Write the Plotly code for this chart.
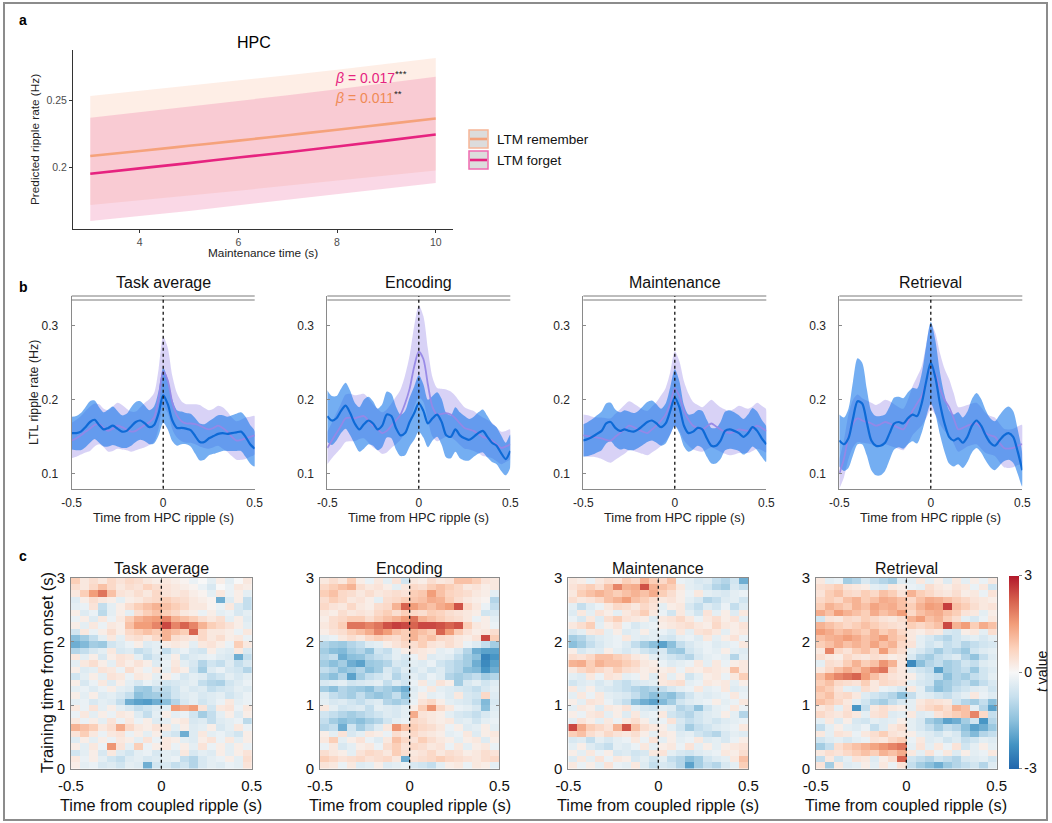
import numpy as np
import plotly.graph_objects as go

W, H = 1052, 823
FONT = "Liberation Sans, Arial, sans-serif"

# ---------------- panel a: predicted HPC ripple rate ----------------
maint_time = [3, 4, 5, 6, 7, 8, 9, 10]
remember_fit = [0.2083, 0.2121, 0.2160, 0.2199, 0.2240, 0.2281, 0.2323, 0.2365]
remember_hi = [0.2534, 0.2572, 0.2611, 0.2650, 0.2691, 0.2732, 0.2775, 0.2820]
remember_lo = [0.1715, 0.1750, 0.1786, 0.1822, 0.1860, 0.1897, 0.1936, 0.1975]
forget_fit = [0.1950, 0.1990, 0.2030, 0.2072, 0.2112, 0.2155, 0.2199, 0.2245]
forget_hi = [0.2372, 0.2413, 0.2455, 0.2497, 0.2540, 0.2585, 0.2632, 0.2680]
forget_lo = [0.1595, 0.1632, 0.1670, 0.1710, 0.1752, 0.1795, 0.1838, 0.1880]
beta_forget = "0.017"
beta_remember = "0.011"

# ---------------- panel b: LTL ripple rate around HPC ripples ----------------
epochs = ["Task average", "Encoding", "Maintenance", "Retrieval"]
lag_s = np.round(np.arange(-0.5, 0.5001, 0.025), 3)

blue_mean_task = [.155,.155,.157,.163,.170,.173,.166,.160,.162,.165,.161,.157,.158,.164,.170,.172,.168,.163,.166,.182,.206,
                  .194,.172,.162,.162,.161,.159,.151,.143,.143,.148,.151,.154,.155,.154,.155,.156,.157,.150,.140,.134]
blue_sem_task = [.022,.023,.025,.027,.028,.026,.024,.023,.025,.026,.024,.022,.023,.026,.027,.026,.024,.023,.025,.030,.037,
                 .034,.028,.024,.022,.021,.022,.024,.025,.024,.023,.024,.025,.024,.023,.024,.025,.026,.027,.026,.024]
purple_mean_task = [.145,.148,.152,.157,.161,.166,.167,.162,.158,.161,.165,.163,.160,.157,.158,.162,.166,.170,.176,.202,.238,
                    .226,.196,.179,.171,.168,.168,.167,.165,.162,.160,.162,.165,.162,.157,.150,.145,.146,.148,.150,.152]
purple_sem_task = [.024,.025,.026,.028,.030,.029,.027,.026,.028,.030,.031,.030,.028,.027,.026,.028,.030,.031,.033,.040,.047,
                   .044,.036,.030,.027,.026,.026,.027,.028,.027,.026,.026,.027,.028,.027,.026,.026,.027,.028,.027,.026]

blue_mean_enc = [.178,.172,.175,.185,.192,.182,.168,.160,.167,.172,.168,.160,.165,.180,.178,.162,.152,.155,.170,.182,.195,
                 .185,.168,.175,.180,.170,.152,.150,.160,.152,.148,.146,.150,.155,.158,.150,.142,.138,.128,.120,.131]
blue_sem_enc = [.035,.033,.030,.030,.031,.030,.028,.030,.033,.032,.030,.028,.029,.031,.030,.029,.028,.030,.033,.036,.038,
                .036,.032,.030,.030,.031,.030,.029,.030,.031,.030,.028,.027,.028,.029,.028,.026,.025,.024,.022,.022]
purple_mean_enc = [.135,.145,.155,.165,.175,.176,.175,.177,.178,.172,.165,.160,.155,.158,.165,.172,.180,.195,.215,.245,.265,
                   .255,.220,.190,.180,.181,.182,.180,.175,.168,.162,.160,.158,.154,.150,.148,.145,.140,.135,.137,.140]
purple_sem_enc = [.022,.024,.027,.030,.032,.032,.031,.030,.030,.030,.029,.028,.028,.029,.030,.032,.034,.038,.045,.055,.062,
                  .058,.048,.040,.036,.034,.032,.031,.030,.029,.028,.027,.027,.026,.026,.025,.024,.023,.022,.021,.020]

blue_mean_maint = [.145,.147,.150,.154,.158,.168,.170,.162,.158,.160,.158,.157,.160,.165,.170,.172,.168,.163,.168,.185,.203,
                   .190,.165,.155,.157,.162,.160,.148,.138,.138,.145,.158,.160,.158,.155,.150,.155,.163,.158,.148,.140]
blue_sem_maint = [.022,.023,.024,.025,.026,.027,.026,.025,.025,.026,.026,.025,.025,.026,.027,.027,.026,.025,.027,.032,.038,
                  .035,.028,.025,.024,.024,.025,.025,.024,.024,.025,.026,.026,.025,.024,.024,.025,.026,.026,.025,.024]
purple_mean_maint = [.152,.151,.150,.149,.148,.146,.145,.150,.155,.160,.165,.163,.160,.157,.155,.160,.165,.172,.180,.195,.215,
                     .205,.185,.173,.165,.162,.160,.164,.168,.164,.160,.157,.155,.157,.160,.159,.158,.161,.165,.162,.158]
purple_sem_maint = [.028,.028,.027,.027,.028,.029,.030,.031,.032,.033,.033,.032,.031,.030,.030,.031,.032,.034,.036,.042,.050,
                    .047,.040,.035,.032,.031,.030,.031,.032,.031,.030,.030,.030,.031,.032,.031,.030,.030,.031,.030,.029]

blue_mean_retr = [.145,.140,.148,.175,.198,.195,.170,.145,.138,.138,.142,.155,.168,.170,.168,.175,.180,.178,.195,.225,.250,
                  .230,.195,.168,.150,.145,.148,.142,.150,.165,.172,.165,.152,.142,.138,.145,.152,.155,.150,.130,.105]
blue_sem_retr = [.035,.036,.040,.050,.058,.055,.045,.040,.040,.040,.038,.036,.035,.034,.034,.035,.036,.037,.040,.048,.055,
                 .050,.042,.038,.036,.035,.035,.034,.034,.036,.037,.036,.034,.033,.033,.034,.035,.036,.035,.030,.022]
purple_mean_retr = [.100,.120,.150,.168,.175,.172,.170,.168,.165,.167,.170,.168,.165,.162,.160,.170,.185,.195,.205,.225,.245,
                    .235,.215,.200,.190,.175,.160,.162,.165,.167,.168,.162,.155,.152,.150,.142,.135,.134,.135,.138,.140]
purple_sem_retr = [.020,.025,.030,.032,.032,.030,.029,.028,.028,.029,.030,.030,.029,.028,.028,.030,.033,.036,.040,.050,.058,
                   .055,.048,.042,.038,.034,.030,.029,.028,.028,.028,.028,.027,.026,.026,.026,.026,.026,.026,.026,.026]

blue_means = [blue_mean_task, blue_mean_enc, blue_mean_maint, blue_mean_retr]
blue_sems = [blue_sem_task, blue_sem_enc, blue_sem_maint, blue_sem_retr]
purple_means = [purple_mean_task, purple_mean_enc, purple_mean_maint, purple_mean_retr]
purple_sems = [purple_sem_task, purple_sem_enc, purple_sem_maint, purple_sem_retr]

# ---------------- panel c: decoding t-values (rows listed from 3 s down to 0 s) ----------------
coupled_lag_s = np.round(np.arange(-0.475, 0.5, 0.05), 3)
train_time_s = np.round(np.arange(0.05, 3.0, 0.1), 2)

tval_task = [
    [0.8,0.3,0.5,0.3,0.6,0.4,0.6,0.5,0.3,0.2,0.3,0.2,0.1,-0.2,0.0,-0.3,0.2,-0.3,0.0,0.3],
    [0.5,0.3,0.6,1.0,0.6,0.3,0.5,0.4,0.7,0.5,0.4,0.3,0.2,0.1,-0.2,-0.5,0.0,-0.2,0.3,0.2],
    [0.3,0.8,1.5,2.0,1.0,0.4,0.3,0.5,0.3,0.6,0.4,0.3,0.4,0.2,0.1,-0.3,0.3,-0.2,0.2,-0.3],
    [-0.4,0.2,0.5,0.3,0.2,-0.3,0.2,0.3,0.5,0.6,0.8,0.6,0.5,0.3,0.2,0.1,-1.8,-0.4,0.2,-0.8],
    [-0.3,-0.2,0.4,-0.8,-0.3,0.2,0.5,0.8,1.0,1.2,1.0,0.8,0.6,0.3,0.3,0.1,-0.2,0.3,-0.5,-0.8],
    [0.2,-0.4,-0.2,-0.9,-0.3,0.2,-0.3,0.5,0.8,1.0,0.8,0.6,0.3,0.2,-0.2,0.2,-0.3,-0.2,-0.5,-0.3],
    [-0.2,0.2,-0.4,0.3,-0.2,0.3,0.8,1.2,1.4,1.5,1.8,1.2,1.0,0.8,0.5,0.3,0.5,-0.3,0.2,-0.4],
    [0.2,-0.3,0.3,-0.2,0.3,0.2,1.0,1.5,1.5,1.8,2.5,1.8,2.2,1.8,1.2,0.8,0.6,0.4,0.2,-0.3],
    [-0.6,0.3,-0.2,0.2,0.5,0.2,0.6,0.8,1.0,0.8,1.2,1.0,0.8,2.2,0.6,0.3,0.3,0.2,-0.2,0.3],
    [-1.5,-1.2,-0.8,-0.3,0.3,-0.3,0.4,0.5,0.3,0.6,1.2,0.5,0.4,0.3,0.6,0.3,0.5,0.2,0.3,-0.2],
    [-1.8,-1.6,-1.2,-1.3,-0.6,-0.4,-0.2,0.2,-0.4,-0.3,0.2,0.3,0.2,-0.3,0.3,0.4,0.2,-0.2,0.8,0.3],
    [-1.0,-0.8,-0.5,-0.3,0.3,-0.5,-0.4,-0.8,-0.6,-0.3,-0.8,-0.4,-0.2,-0.5,-0.6,0.2,-0.3,-0.4,0.3,-0.5],
    [0.3,-0.3,0.2,-0.5,0.2,0.4,0.3,-0.3,-0.8,-0.5,-0.3,0.2,-0.6,-0.4,-0.3,-0.2,-0.4,-0.5,-1.8,-0.8],
    [-0.3,0.3,0.5,0.2,-0.3,0.4,0.2,0.4,0.2,-0.4,-0.2,0.3,-0.3,-0.5,-1.0,-0.6,-0.8,-0.4,-0.8,-0.5],
    [0.2,-0.4,-0.3,0.4,0.3,-0.2,0.5,0.2,-0.2,0.3,-0.3,0.4,0.2,-0.6,-1.2,-0.4,-0.2,-0.5,-0.6,-1.0],
    [-0.6,-0.3,0.2,-0.3,0.4,0.3,-0.2,0.3,0.2,-0.3,0.2,-0.2,-0.5,-0.3,-0.4,-0.8,-0.6,-0.3,-0.5,-0.3],
    [0.2,-0.5,-0.2,0.3,-0.4,0.2,-0.3,-0.5,-0.2,-0.4,-0.6,-0.5,-0.4,-0.3,-0.8,-1.0,-1.1,-0.6,-0.4,-0.2],
    [-0.3,-0.2,-0.4,-0.2,0.2,-0.3,-0.4,-1.2,-1.3,-0.8,-0.9,-0.6,-0.3,-0.5,-0.4,-0.8,-0.6,-0.5,-0.3,-0.4],
    [0.2,-0.3,0.2,-0.4,-0.3,-0.5,-0.8,-1.5,-1.3,-1.2,-1.0,-0.6,-0.4,-0.3,-0.5,-0.4,-0.3,-0.6,-0.4,-0.2],
    [-0.3,-0.2,-0.5,-0.3,-0.4,-0.8,-1.8,-2.0,-2.1,-1.8,-1.5,-1.0,-0.5,-0.3,-0.6,-0.4,-0.2,0.3,-0.3,-0.2],
    [0.3,-0.2,0.4,-0.3,0.2,-0.3,-0.5,-0.8,-0.6,-0.4,-0.3,1.5,1.3,1.5,0.4,-0.6,0.3,0.4,-0.2,0.3],
    [-0.2,0.3,-0.3,0.2,-0.2,0.3,0.2,-0.4,-0.8,-0.3,0.2,-0.3,-0.2,-0.6,-1.2,-0.8,-0.3,0.2,-0.4,0.2],
    [0.3,-0.2,0.2,-0.3,0.4,-0.2,0.3,-0.2,0.2,-0.4,-0.3,0.2,0.3,-0.5,-0.4,-0.8,-0.4,-0.3,-0.2,-0.9],
    [1.2,1.0,0.8,0.3,0.5,1.3,0.6,0.3,0.2,0.4,0.3,-0.3,0.2,-0.4,-0.3,0.2,-0.5,-0.3,0.3,-0.2],
    [0.4,0.8,0.3,-0.2,0.3,0.4,-0.2,0.2,-0.3,0.2,-0.4,-0.6,-1.8,-0.4,0.3,-0.3,-0.2,-0.4,-0.6,0.2],
    [-0.4,0.2,-0.3,0.2,-0.2,0.3,0.2,-0.3,0.4,-0.2,0.3,0.2,-0.3,-0.4,0.2,0.4,-0.2,0.3,-0.3,0.2],
    [0.2,-0.3,0.3,-0.2,1.6,0.4,-0.3,0.8,-0.2,0.2,0.3,-0.2,0.2,-0.3,0.4,-0.2,0.2,-0.3,0.2,-0.2],
    [-0.6,-0.3,0.2,-0.5,0.3,-0.4,-0.6,-0.3,-0.2,-0.5,-0.3,-0.4,0.3,-0.5,-0.3,-0.4,0.2,-0.3,0.2,0.4],
    [0.3,-0.2,0.2,-0.3,-0.6,-0.8,-0.4,-0.3,-0.5,-0.4,-0.3,-0.2,-0.8,-1.0,-0.5,-0.3,-0.2,0.2,-0.3,0.5],
    [0.2,-0.3,-0.2,-0.5,-0.4,-0.6,-0.3,-0.4,-1.8,-0.6,-0.5,-0.8,-0.6,-1.0,-0.5,-0.3,-0.4,-0.2,-0.3,0.4],
]

tval_enc = [
    [0.3,0.5,0.3,0.8,0.2,-0.2,0.3,-0.3,0.4,-0.6,0.3,0.2,0.5,0.3,0.4,1.0,1.0,0.8,0.4,0.3],
    [0.6,0.8,1.0,1.2,0.5,0.3,0.4,0.2,-0.3,0.3,0.6,0.5,0.8,1.0,0.8,0.6,0.3,0.4,0.2,0.3],
    [0.8,1.0,0.6,0.5,0.3,0.5,0.3,0.4,0.5,0.4,0.8,0.9,1.5,1.0,0.7,0.6,0.5,0.3,0.2,-0.3],
    [0.5,0.8,0.6,0.3,0.4,0.2,-0.3,0.5,0.6,0.8,0.9,1.0,1.3,1.2,0.8,0.5,0.3,0.2,0.1,-1.0],
    [0.6,0.4,0.3,0.6,0.3,0.2,0.5,0.6,1.2,2.2,1.5,1.2,1.0,1.3,1.5,2.4,0.6,0.3,-0.2,-0.8],
    [0.3,0.2,0.5,0.3,0.4,0.3,0.6,0.8,0.5,0.8,0.6,0.5,0.8,0.7,0.5,0.4,0.3,0.2,-0.6,-0.5],
    [0.2,0.5,0.6,0.8,0.8,0.5,0.8,1.0,1.2,1.5,2.0,1.2,1.0,0.8,0.6,0.5,0.3,-0.2,0.2,-0.3],
    [0.3,0.5,0.8,2.0,2.0,1.8,2.0,2.4,2.6,2.5,2.2,2.5,2.5,2.4,2.2,2.4,0.8,0.3,0.2,-0.2],
    [0.2,0.4,0.5,0.8,1.0,1.3,1.8,1.5,1.0,0.8,1.2,1.0,0.8,2.2,1.5,0.8,0.4,0.2,0.3,0.5],
    [-0.3,-0.2,0.3,0.5,0.3,0.6,0.8,0.6,0.5,0.8,1.2,0.8,1.0,0.6,0.5,0.3,0.2,0.4,2.5,0.8],
    [-1.0,-1.2,-1.3,-1.0,-0.8,-0.4,-0.3,0.2,0.4,0.6,0.5,0.8,0.4,0.3,0.5,0.3,-0.2,-0.4,-0.8,-1.2],
    [-1.2,-1.5,-1.6,-1.2,-1.0,-1.4,-0.6,-0.8,-0.3,0.2,0.4,0.3,0.2,-0.3,-0.2,-0.5,-1.0,-1.8,-2.0,-2.0],
    [-1.0,-0.8,-1.8,-1.5,-1.4,-1.0,-0.8,-0.6,-0.3,-0.5,-0.2,0.3,-0.4,-0.3,-0.4,-0.8,-1.2,-1.5,-2.5,-2.2],
    [-1.2,-1.5,-1.2,-1.8,-2.0,-1.3,-1.2,-1.0,-0.5,-0.6,-0.3,-0.4,-0.2,-0.6,-0.8,-1.0,-1.2,-1.8,-2.4,-2.0],
    [-0.8,-1.0,-1.5,-1.3,-1.0,-1.5,-1.2,-0.5,-0.8,-0.4,-0.5,-0.3,-0.6,-0.4,-0.8,-1.0,-1.5,-1.6,-2.2,-1.8],
    [-1.2,-1.5,-1.0,-2.0,-1.2,-0.8,-0.6,-0.4,-1.0,-0.6,-0.3,-0.5,-0.2,-0.4,-1.0,-1.2,-1.0,-0.8,-1.2,-1.0],
    [-0.5,-0.4,-0.3,-0.6,-0.5,-0.4,-0.3,-0.8,-0.4,-0.6,-0.2,0.3,-0.3,0.4,0.2,-1.2,-0.5,-0.3,-0.6,-0.4],
    [-1.2,-1.5,-1.0,-1.2,-1.3,-1.5,-1.0,-1.2,-1.5,-1.8,-0.4,-0.2,0.3,-0.3,-0.4,-0.5,-0.6,-0.8,-0.5,-0.3],
    [-0.4,-0.8,-1.0,-1.2,-0.8,-1.2,-1.4,-1.2,-0.8,-1.5,-0.3,0.2,-0.3,-0.2,-0.4,0.3,-0.5,-0.6,0.6,-0.4],
    [-0.3,-0.5,-0.4,-0.6,-0.8,-0.5,-0.4,-1.0,-1.2,-1.0,-0.2,0.4,0.6,0.2,-0.3,-0.4,-0.5,-0.8,-1.6,-0.5],
    [0.3,-0.3,-0.6,-0.5,-0.4,-0.8,-0.3,-0.4,-0.5,-0.3,0.2,0.8,1.6,0.6,0.3,-0.2,-0.3,-0.5,-1.5,-0.4],
    [-0.6,-0.8,-1.0,-1.2,-1.0,-0.8,-0.6,-0.4,-0.5,-0.3,1.3,0.4,0.3,0.2,-0.3,-0.5,-0.6,-0.8,-0.5,-0.3],
    [-0.8,-1.2,-1.5,-1.3,-1.5,-1.2,-1.0,-0.6,-0.3,-0.2,0.6,0.5,0.3,0.2,0.3,-0.4,-0.3,-0.6,-0.3,-0.2],
    [-1.0,-0.8,-1.8,-0.6,-1.2,-0.8,-0.4,0.3,1.6,1.0,0.8,0.6,0.5,0.3,-0.2,0.2,-0.4,-0.3,0.2,-0.3],
    [0.2,-0.3,0.4,-0.5,-0.3,0.3,0.2,-0.2,0.5,0.3,0.6,0.4,0.3,0.2,-0.3,-0.2,0.3,-0.4,0.2,0.3],
    [0.3,0.8,-0.3,0.2,0.4,-0.2,-0.4,0.3,1.0,0.6,0.4,0.8,0.5,0.3,0.2,-0.3,0.2,0.3,-0.4,0.2],
    [-0.2,0.3,-0.5,-0.3,0.2,0.3,-0.2,0.5,0.8,0.4,0.6,0.5,0.3,0.4,-0.2,0.3,-0.3,0.2,0.3,-0.2],
    [0.5,0.3,0.2,-0.3,0.4,0.6,0.5,0.3,0.8,0.5,0.3,0.4,0.6,0.3,0.5,0.4,0.2,0.3,0.5,0.4],
    [0.8,0.6,0.4,0.5,0.6,0.4,0.5,0.6,0.3,-1.8,0.4,0.5,0.6,0.8,0.6,0.5,0.4,0.3,0.5,0.6],
    [0.4,0.3,-0.2,0.3,-0.4,-0.3,0.2,-0.4,-0.3,-0.2,-0.5,-0.6,-0.8,-0.3,0.2,0.3,-0.2,0.3,0.2,-0.3],
]

tval_maint = [
    [0.3,0.2,-0.2,0.3,0.5,0.4,0.8,0.6,1.2,0.8,0.6,1.0,-0.2,-0.3,-0.5,-0.4,-0.8,-1.0,-0.6,-1.8],
    [0.4,0.6,0.8,0.5,1.0,1.8,1.2,1.3,2.4,1.2,1.0,0.8,0.3,-0.3,-0.4,-0.6,-1.0,-1.2,-0.5,-0.8],
    [0.3,0.8,1.0,1.2,1.0,0.8,1.0,1.2,1.0,1.3,0.8,0.5,0.2,-0.2,0.3,-0.3,-0.4,-0.5,-0.3,-0.2],
    [0.5,0.3,0.4,0.6,1.0,1.2,1.5,1.0,0.8,0.5,0.3,0.4,0.2,-0.3,-0.5,-1.0,-0.8,-0.4,-0.3,-0.6],
    [-0.3,-0.8,-0.4,-0.2,0.3,0.6,0.5,0.3,0.6,0.4,-0.3,0.2,0.3,-0.5,-0.8,-0.4,-0.6,-0.2,-0.8,-0.4],
    [-0.4,0.3,-0.3,0.4,0.2,-0.3,0.3,0.5,0.8,0.3,-0.2,-0.6,0.3,-0.3,-0.6,0.4,-0.3,0.2,-0.4,0.3],
    [-0.2,-0.5,0.3,-0.4,0.5,0.8,0.4,0.3,0.2,-0.4,0.3,0.4,0.6,0.3,-0.2,0.3,0.5,0.2,0.4,-0.3],
    [0.3,0.5,0.8,-0.3,0.2,0.4,-0.2,-0.5,-0.3,-0.2,0.2,0.3,0.4,0.5,0.3,0.2,0.6,0.3,0.2,0.4],
    [-0.5,-0.3,0.3,0.4,-0.3,0.2,-0.4,-0.3,0.2,-0.3,-0.2,-0.4,0.3,-0.3,0.4,0.5,0.3,-0.3,0.2,0.3],
    [-1.2,-1.0,-0.6,-0.4,-0.3,-0.2,0.3,-0.3,-0.4,-0.3,-0.5,-0.6,-0.3,-0.2,-0.4,0.3,-0.3,0.2,0.4,-0.2],
    [-1.5,-1.2,-0.8,-0.5,-0.3,-0.2,-0.4,-0.8,-1.2,-1.5,-2.0,-1.5,-0.8,-0.5,-0.3,-0.2,-0.4,-0.3,-0.2,0.3],
    [0.2,-0.5,-0.3,-0.4,0.2,-0.3,-0.5,-0.3,-0.6,-0.8,-0.5,-1.2,-1.3,-0.6,-0.4,-0.2,-0.3,0.2,-0.3,-0.4],
    [0.5,0.4,0.6,1.0,1.0,0.8,0.6,0.3,0.2,-0.3,-0.4,-0.6,-0.8,-1.0,-0.5,-0.3,-0.2,-0.3,-1.0,-0.3],
    [1.2,1.3,0.8,1.2,1.0,1.0,0.8,0.6,0.3,0.2,-0.2,-0.4,-0.3,-0.2,0.3,-0.3,0.3,-0.2,0.2,0.3],
    [0.3,0.6,0.8,0.6,0.4,0.8,0.5,0.4,0.2,0.3,0.2,0.3,-0.2,0.3,0.2,0.4,0.3,0.2,1.0,0.3],
    [-0.3,-0.4,0.3,-0.2,0.4,0.3,-0.3,-0.2,0.2,-0.4,0.3,-0.3,0.2,-0.6,-0.3,0.2,0.3,-0.2,0.3,0.8],
    [-0.6,-0.4,-0.3,-0.5,-0.3,-0.6,-0.8,-0.5,-0.4,-0.3,0.3,0.4,0.5,-0.3,-0.2,0.3,0.2,0.3,-0.3,0.2],
    [0.3,-0.3,0.2,-0.4,-0.5,-0.6,-0.8,-1.0,-1.2,-1.0,-0.8,-0.5,-0.3,-0.2,0.3,-0.3,-0.2,0.3,-0.4,-0.3],
    [-0.3,0.3,-0.2,0.3,-0.3,-0.4,-0.5,-0.8,-1.2,-1.5,-1.3,-1.5,-1.0,-0.6,-0.3,-0.4,-0.3,-0.2,0.3,-0.2],
    [0.2,-0.3,0.4,0.3,-0.2,-0.5,-0.8,-1.5,-1.8,-2.0,-1.6,-1.2,-0.6,-0.4,-0.3,-0.2,0.2,-0.3,-0.2,0.3],
    [-0.3,0.3,0.2,-0.4,0.3,0.2,0.4,-0.3,-0.5,-0.6,-0.3,-0.4,-1.0,-0.8,-1.4,-0.6,-0.3,-0.2,0.3,-0.2],
    [0.2,-0.2,0.3,0.4,-0.3,0.2,-0.4,0.3,-0.3,-0.2,0.3,-0.6,-0.8,-1.0,-0.6,-0.4,-0.3,0.2,-0.3,-1.0],
    [-0.3,0.4,0.2,-0.3,0.3,-0.2,0.3,0.5,0.2,-0.3,-0.2,0.4,-0.5,-0.8,-0.6,-0.4,-0.6,-0.4,-0.3,-0.2],
    [2.5,1.3,0.8,0.6,0.4,1.2,2.4,1.0,0.5,0.3,0.2,-0.3,-0.6,-1.2,-0.8,-0.6,-0.4,-0.3,-0.2,0.3],
    [0.8,1.0,0.5,0.3,0.6,0.4,0.3,0.5,0.2,-0.3,0.3,0.2,-0.4,-0.3,-0.6,-0.8,-1.0,-0.5,-0.3,-0.4],
    [-0.5,-0.4,-0.8,-0.3,-0.5,-0.3,-0.2,0.3,-0.2,0.4,-0.3,0.2,-0.3,-0.2,0.3,-0.4,-0.3,-0.5,-0.2,0.2],
    [-0.3,0.2,-0.4,-0.6,-0.8,-0.3,-0.4,-0.2,0.3,-0.3,0.2,0.3,-0.2,0.4,-0.3,0.2,-0.3,0.2,0.3,0.4],
    [0.2,-0.3,0.3,-0.2,0.2,-0.5,-0.4,-0.6,-0.5,0.3,0.4,-0.3,-0.5,-0.6,-0.4,-0.3,-0.2,0.3,0.2,0.5],
    [-0.4,0.3,-0.3,0.4,-0.2,0.3,0.2,-0.5,-0.3,-0.6,-0.3,-0.8,-1.0,-1.5,-1.2,-0.6,-0.4,-0.3,0.3,1.0],
    [0.3,-0.2,0.2,-0.3,0.4,-0.2,-0.3,0.3,-0.4,-0.8,-0.5,-0.6,-1.0,-2.0,-1.2,-0.8,-1.0,-0.5,-0.3,0.8],
]

tval_retr = [
    [0.3,-0.3,-0.2,-1.2,-1.0,-0.5,-0.8,-1.0,-1.2,-0.4,-0.3,0.3,-0.3,0.2,-0.4,0.3,-0.3,0.2,-0.2,0.3],
    [0.5,0.6,0.8,0.4,0.3,0.2,-0.3,-0.4,0.3,0.2,-0.2,-0.3,0.5,0.3,0.2,0.4,0.3,-0.2,0.3,-0.6],
    [0.4,0.8,1.0,0.6,0.5,0.8,0.6,1.0,0.8,0.4,1.2,0.8,0.6,0.4,0.3,0.5,0.2,0.3,-0.2,0.4],
    [0.6,0.8,0.6,1.0,1.2,0.8,1.0,1.3,1.2,1.0,0.6,1.0,1.3,1.2,1.0,0.8,0.6,0.4,0.3,0.2],
    [0.8,1.2,1.0,0.8,1.2,1.0,1.4,1.2,1.3,1.0,0.8,1.2,1.5,1.4,2.6,1.0,0.8,0.5,0.3,0.4],
    [1.3,1.0,1.5,1.2,1.0,0.8,1.3,1.0,1.2,1.5,0.6,1.0,1.2,1.3,1.0,0.8,0.4,0.3,-0.3,0.2],
    [-0.6,0.4,0.3,0.6,0.5,0.8,0.6,0.4,0.3,0.5,1.2,1.5,1.0,1.2,0.8,0.5,-0.3,-0.5,-0.2,0.3],
    [1.2,1.0,0.8,0.6,0.8,1.0,0.8,0.6,0.5,0.4,0.8,0.6,0.8,1.0,2.5,1.2,1.5,0.8,1.3,1.0],
    [1.5,1.3,1.0,1.2,1.0,0.8,1.2,0.8,1.0,0.6,0.3,0.2,0.4,0.3,-0.5,-0.6,0.2,0.3,-0.3,0.5],
    [1.0,1.2,1.3,1.5,1.3,1.0,1.2,1.5,1.0,0.8,0.3,-0.3,-0.5,-0.8,-1.0,-0.6,-0.4,-0.3,-0.5,-0.3],
    [0.8,1.0,1.3,1.0,1.2,1.0,1.4,1.0,1.2,0.6,0.4,-0.3,-0.6,-0.4,-0.8,-0.6,-1.0,-0.8,-0.6,-0.5],
    [0.3,1.8,0.6,0.4,0.8,1.0,0.6,1.5,0.8,0.5,-0.3,-0.5,-0.8,-1.2,-0.8,-1.0,-1.3,-0.6,-0.4,-0.3],
    [0.5,0.3,0.2,0.6,0.4,0.3,0.5,0.4,0.2,0.3,-0.5,-1.0,-1.2,-0.8,-0.6,-0.4,-1.0,-1.4,-0.8,-0.4],
    [-0.3,0.5,0.4,0.8,1.2,0.8,1.0,1.6,1.2,0.3,-2.4,-1.5,-1.0,-0.8,-1.2,-1.0,-0.6,-0.8,-0.4,-0.3],
    [0.3,0.6,1.0,1.3,1.0,1.4,1.8,2.0,0.6,0.3,-0.4,-0.6,-0.8,-2.0,-1.2,-1.0,-0.8,-1.3,-0.6,-0.4],
    [1.0,1.5,1.8,2.0,2.2,1.5,1.0,0.6,0.4,0.3,0.2,-0.4,-0.6,-0.8,-1.5,-1.0,-1.2,-0.8,-0.6,-0.3],
    [0.8,1.0,0.6,0.5,0.4,0.8,0.3,0.6,0.5,0.4,-0.3,-0.5,-0.6,-1.4,-1.2,-1.0,-0.8,-1.2,-0.8,-0.5],
    [1.0,0.8,0.4,-0.3,-0.4,0.5,0.3,-0.2,-0.3,-0.5,0.3,-0.3,-1.0,-1.5,-1.2,-0.8,-0.6,-0.4,-0.3,-0.6],
    [0.8,1.0,0.5,0.6,0.3,-0.4,-0.6,-0.8,-1.0,-1.5,-0.8,-0.3,-0.4,-0.6,-0.8,-0.5,-0.3,0.3,-0.2,-0.4],
    [1.0,0.8,0.6,0.3,-0.3,-0.6,-1.0,-1.2,-0.8,-0.5,-0.3,0.3,0.5,0.4,0.3,-0.6,-1.0,-1.2,-0.8,-1.5],
    [0.3,0.5,-0.3,0.4,-2.2,-0.8,0.3,0.5,0.3,0.2,-0.3,0.4,0.6,0.8,0.5,1.2,1.0,-0.3,-1.0,-2.0],
    [0.6,0.4,0.3,0.5,0.3,-0.3,0.4,0.5,-0.4,-0.3,0.3,-0.4,-0.3,0.4,0.6,0.8,1.0,1.8,0.6,-0.8],
    [-0.3,0.3,-0.4,0.2,-0.5,-0.6,-0.3,-0.4,-0.3,0.2,-0.3,-0.5,-1.2,-1.5,-2.0,-1.8,-1.2,-0.6,-2.2,-1.0],
    [-0.8,-0.3,0.2,-0.3,-0.4,-0.2,-0.8,-0.4,0.3,0.5,-0.3,-0.5,-0.8,-1.2,-0.8,-1.0,-1.5,-2.0,-1.8,-1.3],
    [0.3,-0.3,0.4,0.3,-0.2,0.3,0.5,0.8,0.4,0.3,0.2,-0.3,-0.4,-0.6,-0.3,-0.5,-1.2,-1.6,-1.0,-0.8],
    [-0.6,-0.4,-0.3,-0.5,-0.3,-0.2,0.4,0.3,0.6,0.8,-0.2,0.3,-0.4,-0.3,-0.6,-0.4,-0.8,-0.6,-0.3,-0.4],
    [-1.2,-0.8,0.5,0.8,1.0,1.2,1.4,1.6,1.8,2.0,-0.3,0.4,-0.3,0.3,-0.2,0.4,-0.6,-0.3,0.2,-0.3],
    [0.3,0.5,0.4,0.6,0.8,1.0,0.8,1.2,1.0,1.3,0.3,-0.3,0.4,-0.2,0.3,-0.4,0.2,-0.3,-0.2,0.3],
    [-0.8,0.3,-0.6,-0.3,0.4,0.3,-0.4,0.2,0.5,2.2,-0.6,-0.8,-1.0,-0.6,-0.8,-1.0,-0.5,-0.4,-0.3,-0.6],
    [0.4,-1.2,0.3,-0.4,-0.3,0.2,-0.3,0.3,-0.2,0.4,-0.8,-1.2,-1.5,-1.8,-1.3,-1.0,-0.8,-0.6,-1.0,-0.4],
]
tval_maps = [tval_task, tval_enc, tval_maint, tval_retr]

# ---------------- helpers ----------------
def fx(p):
    return p / W


def fy(p):
    return 1 - p / H


def band(x, lo, hi):
    x = list(x)
    return x + x[::-1], list(hi) + list(lo)[::-1]


fig = go.Figure()
annotations = []
shapes = []


def text(s, x, y, size, color="#000", xanchor="center", yanchor="middle", angle=0, bold=False):
    if bold:
        s = "<b>" + s + "</b>"
    annotations.append(dict(text=s, x=fx(x), y=fy(y), xref="paper", yref="paper", showarrow=False,
                            xanchor=xanchor, yanchor=yanchor, textangle=angle,
                            font=dict(size=size, color=color, family=FONT)))


# ---------------- panel a ----------------
xs, ys = band(maint_time, remember_lo, remember_hi)
fig.add_trace(go.Scatter(x=xs, y=ys, mode="lines", fill="toself", fillcolor="rgba(248,170,130,0.20)",
                         line=dict(width=0), hoverinfo="skip", xaxis="x", yaxis="y"))
xs, ys = band(maint_time, forget_lo, forget_hi)
fig.add_trace(go.Scatter(x=xs, y=ys, mode="lines", fill="toself", fillcolor="rgba(236,90,150,0.24)",
                         line=dict(width=0), hoverinfo="skip", xaxis="x", yaxis="y"))
fig.add_trace(go.Scatter(x=maint_time, y=remember_fit, mode="lines", line=dict(color="#F5A27B", width=2.6),
                         line_shape="spline", xaxis="x", yaxis="y"))
fig.add_trace(go.Scatter(x=maint_time, y=forget_fit, mode="lines", line=dict(color="#E6237F", width=2.6),
                         line_shape="spline", xaxis="x", yaxis="y"))

axis_a = dict(showgrid=False, zeroline=False, showline=True, linecolor="#333", linewidth=1,
              ticks="outside", ticklen=3, tickcolor="#333",
              tickfont=dict(size=10.5, color="#4d4d4d", family=FONT))
layout_axes = {}
layout_axes["xaxis"] = dict(axis_a, domain=[fx(73), fx(453)], range=[2.65, 10.35], anchor="y",
                            tickvals=[4, 6, 8, 10])
layout_axes["yaxis"] = dict(axis_a, domain=[fy(229), fy(50)], range=[0.1534, 0.2881], anchor="x",
                            tickvals=[0.2, 0.25], ticktext=["0.2", "0.25"])

text("a", 23, 20, 14, bold=True)
text("HPC", 254, 42, 16)
text("Maintenance time (s)", 263, 253, 11.8, color="#222")
text("Predicted ripple rate (Hz)", 35, 140, 11.8, color="#222", angle=-90)
text("<i>β</i> = " + beta_forget + "<sup><span style='color:#222'>***</span></sup>", 333, 77, 14,
     color="#E6237F", xanchor="left")
text("<i>β</i> = " + beta_remember + "<sup><span style='color:#222'>**</span></sup>", 333, 97, 14,
     color="#F08A55", xanchor="left")

# legend keys for panel a
for (top, edge, line_col, label) in [(130, "#F6B596", "#F5A27B", "LTM remember"),
                                     (151, "#F06AB0", "#E6237F", "LTM forget")]:
    shapes.append(dict(type="rect", xref="paper", yref="paper", x0=fx(469), x1=fx(488),
                       y0=fy(top + 18), y1=fy(top), fillcolor="#DCDCDC",
                       line=dict(color=edge, width=1.5)))
    shapes.append(dict(type="line", xref="paper", yref="paper", x0=fx(470), x1=fx(487),
                       y0=fy(top + 9), y1=fy(top + 9), line=dict(color=line_col, width=2.6)))
    text(label, 495, top + 9, 13.5, color="#111", xanchor="left")

# ---------------- panel b ----------------
b_left = [71.7, 327.3, 583.3, 839.3]
b_width = 183.0
b_top, b_bot = 296.0, 488.7
axis_b = dict(showgrid=False, zeroline=False, showline=True, linecolor="#8a8a8a", linewidth=1,
              ticks="inside", ticklen=3, tickcolor="#8a8a8a",
              tickfont=dict(size=12, color="#262626", family=FONT))
for i, name in enumerate(epochs):
    k = i + 2
    xa, ya = "x%d" % k, "y%d" % k
    lo_p = [m - s for m, s in zip(purple_means[i], purple_sems[i])]
    hi_p = [m + s for m, s in zip(purple_means[i], purple_sems[i])]
    lo_b = [m - s for m, s in zip(blue_means[i], blue_sems[i])]
    hi_b = [m + s for m, s in zip(blue_means[i], blue_sems[i])]
    xs, ys = band(lag_s, lo_p, hi_p)
    fig.add_trace(go.Scatter(x=xs, y=ys, mode="lines", fill="toself", fillcolor="rgba(125,105,225,0.30)",
                             line=dict(width=0, shape="spline", smoothing=0.8), hoverinfo="skip",
                             xaxis=xa, yaxis=ya))
    xs, ys = band(lag_s, lo_b, hi_b)
    fig.add_trace(go.Scatter(x=xs, y=ys, mode="lines", fill="toself", fillcolor="rgba(15,115,232,0.58)",
                             line=dict(width=0, shape="spline", smoothing=0.8), hoverinfo="skip",
                             xaxis=xa, yaxis=ya))
    fig.add_trace(go.Scatter(x=lag_s, y=purple_means[i], mode="lines",
                             line=dict(color="rgba(150,135,230,0.95)", width=1.8, shape="spline", smoothing=0.8),
                             xaxis=xa, yaxis=ya))
    fig.add_trace(go.Scatter(x=lag_s, y=blue_means[i], mode="lines",
                             line=dict(color="#0E6AD6", width=2.2, shape="spline", smoothing=0.8),
                             xaxis=xa, yaxis=ya))
    l, r = b_left[i], b_left[i] + b_width
    layout_axes["xaxis%d" % k] = dict(axis_b, domain=[fx(l), fx(r)], range=[-0.5, 0.5], anchor=ya,
                                      tickvals=[-0.5, 0, 0.5], ticktext=["-0.5", "0", "0.5"],
                                      ticklabelstandoff=3)
    layout_axes["yaxis%d" % k] = dict(axis_b, domain=[fy(b_bot), fy(b_top)], range=[0.08, 0.34], anchor=xa,
                                      tickvals=[0.1, 0.2, 0.3], ticktext=["0.1", "0.2", "0.3"],
                                      ticklabelstandoff=10)
    for yy in (b_top, b_top + 4):
        shapes.append(dict(type="line", xref="paper", yref="paper", x0=fx(l), x1=fx(r),
                           y0=fy(yy), y1=fy(yy), line=dict(color="#7a7a7a", width=1)))
    shapes.append(dict(type="line", xref=xa, yref=ya, x0=0, x1=0, y0=0.08, y1=0.34,
                       line=dict(color="#111", width=1.3, dash="dot")))
    text(name, (l + r) / 2, 282, 16, color="#111")
    text("Time from HPC ripple (s)", (l + r) / 2, 517, 12.8, color="#222")

text("b", 23, 287, 14, bold=True)
text("LTL ripple rate (Hz)", 34, 393, 12.4, color="#222", angle=-90)

# ---------------- panel c ----------------
rdbu = [[0.0, "rgb(33,102,172)"], [0.125, "rgb(67,147,195)"], [0.25, "rgb(140,192,220)"],
        [0.375, "rgb(200,224,238)"], [0.5, "rgb(247,247,247)"], [0.625, "rgb(252,210,188)"],
        [0.75, "rgb(242,158,122)"], [0.875, "rgb(214,96,77)"], [1.0, "rgb(178,24,43)"]]
c_bounds = [(71.0, 251.7), (320.0, 499.3), (568.3, 748.3), (816.0, 996.7)]
c_top, c_bot = 577.7, 768.7
axis_c = dict(showgrid=False, zeroline=False, showline=True, mirror="ticks", linecolor="#8a8a8a", linewidth=1,
              ticks="inside", ticklen=3, tickcolor="#8a8a8a",
              tickfont=dict(size=15, color="#111", family=FONT))
for i, name in enumerate(epochs):
    k = i + 6
    xa, ya = "x%d" % k, "y%d" % k
    fig.add_trace(go.Heatmap(x=coupled_lag_s, y=train_time_s, z=tval_maps[i][::-1],
                             coloraxis="coloraxis", xaxis=xa, yaxis=ya, hoverinfo="skip"))
    l, r = c_bounds[i]
    layout_axes["xaxis%d" % k] = dict(axis_c, domain=[fx(l), fx(r)], range=[-0.5, 0.5], anchor=ya,
                                      tickvals=[-0.5, 0, 0.5], ticktext=["-0.5", "0", "0.5"],
                                      ticklabelstandoff=3)
    layout_axes["yaxis%d" % k] = dict(axis_c, domain=[fy(c_bot), fy(c_top)], range=[0, 3], anchor=xa,
                                      tickvals=[0, 1, 2, 3], ticklabelstandoff=2)
    shapes.append(dict(type="line", xref=xa, yref=ya, x0=0, x1=0, y0=0, y1=3,
                       line=dict(color="#111", width=1.3, dash="dot")))
    text(name, (l + r) / 2, 568, 16, color="#111")
    text("Time from coupled ripple (s)", (l + r) / 2, 805, 16.3, color="#111")

text("c", 23, 556, 14, bold=True)
text("Training time from onset (s)", 47, 673, 16.5, color="#111", angle=-90)
text("<i>t</i> value", 1042, 672, 14, color="#111", angle=-90)

# figure frame
shapes.append(dict(type="rect", xref="paper", yref="paper", x0=fx(4), x1=fx(1047), y0=fy(820), y1=fy(3),
                   line=dict(color="#8c8c8c", width=2), layer="above"))

fig.update_layout(
    width=W, height=H, margin=dict(l=0, r=0, t=0, b=0, pad=0, autoexpand=False),
    paper_bgcolor="white", plot_bgcolor="rgba(0,0,0,0)",
    font=dict(family=FONT), showlegend=False,
    coloraxis=dict(colorscale=rdbu, cmin=-3, cmax=3,
                   colorbar=dict(x=fx(1009), xanchor="left", y=fy(672), yanchor="middle",
                                 len=(768.5 - 576) / H, lenmode="fraction",
                                 thickness=10, thicknessmode="pixels", outlinewidth=0,
                                 tickvals=[-3, 0, 3], ticktext=["-3", "0", "3"],
                                 ticks="outside", ticklen=3, tickcolor="#8a8a8a",
                                 tickfont=dict(size=14, color="#111", family=FONT),
                                 xpad=0, ypad=0)),
    annotations=annotations, shapes=shapes,
    **layout_axes,
)

fig.write_html("out.html")
